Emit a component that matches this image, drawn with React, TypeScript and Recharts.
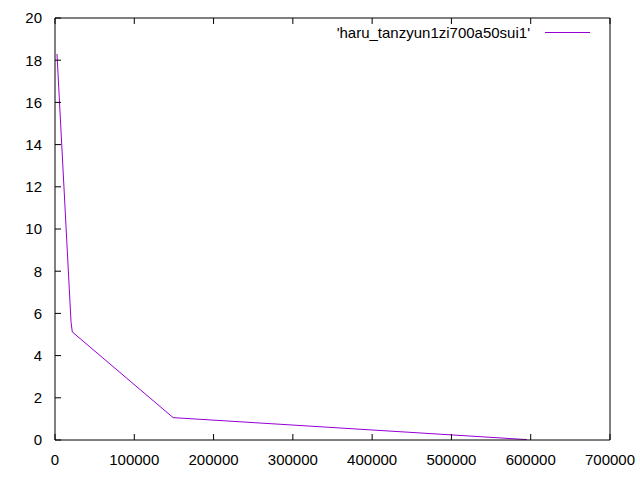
import { LineChart, Line, XAxis, YAxis } from 'recharts';

const xValues = [2500, 20200, 21800, 149000, 595000];
const yValues = [18.3, 5.6, 5.12, 1.06, 0.02];
const xTicks = [0, 100000, 200000, 300000, 400000, 500000, 600000, 700000];
const yTicks = [0, 2, 4, 6, 8, 10, 12, 14, 16, 18, 20];
const seriesName = "'haru_tanzyun1zi700a50sui1'";

const data = xValues.map((x, i) => ({ x, y: yValues[i] }));

const font = { fontFamily: 'Liberation Sans, Arial, sans-serif', fontSize: 15, fill: '#000' };
const noTick = () => <g />;

export default function App() {
    return (
        <div style={{ position: 'fixed', left: 0, top: 0, width: 640, height: 480, background: '#fff' }}>
            <LineChart width={640} height={480} data={data} margin={{ top: 17, right: 29, left: 0, bottom: 0 }}>
                <XAxis
                    dataKey="x"
                    type="number"
                    domain={[0, 700000]}
                    ticks={xTicks}
                    interval={0}
                    height={40}
                    stroke="#000"
                    tickSize={-6}
                    tickMargin={20}
                    tick={font}
                />
                <XAxis xAxisId="top" orientation="top" dataKey="x" type="number" domain={[0, 700000]} ticks={xTicks} interval={0} height={1} stroke="#000" tickSize={-6} tick={noTick} />
                <YAxis
                    dataKey="y"
                    type="number"
                    domain={[0, 20]}
                    ticks={yTicks}
                    interval={0}
                    width={55}
                    stroke="#000"
                    tickSize={-6}
                    tickMargin={19}
                    tick={font}
                />
                <YAxis yAxisId="right" orientation="right" type="number" domain={[0, 20]} ticks={yTicks} interval={0} width={1} stroke="#000" tickSize={-6} tick={noTick} />
                <Line type="linear" dataKey="y" stroke="#9400D3" strokeWidth={1} dot={false} isAnimationActive={false} />
            </LineChart>
            <div style={{ position: 'absolute', right: 50, top: 24, display: 'flex', alignItems: 'center', fontFamily: font.fontFamily, fontSize: 15, color: '#000' }}>
                <span>{seriesName}</span>
                <span style={{ display: 'inline-block', width: 45, height: 1, background: '#9400D3', marginLeft: 15 }} />
            </div>
        </div>
    );
}
